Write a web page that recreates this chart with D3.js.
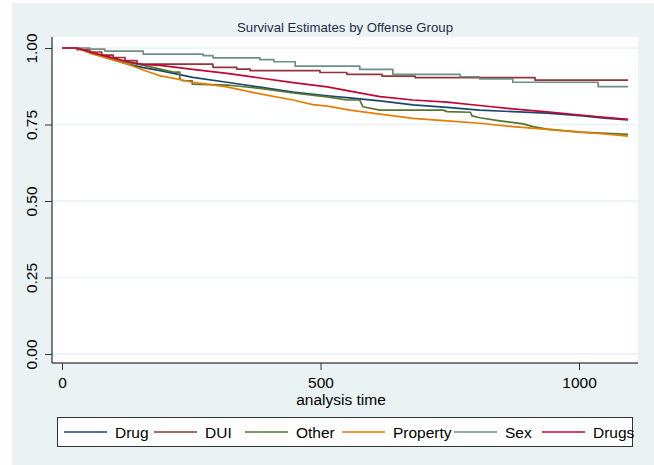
<!DOCTYPE html>
<html>
<head>
<meta charset="utf-8">
<script src="https://cdn.jsdelivr.net/npm/d3@7"></script>
<style>
  html, body { margin: 0; padding: 0; background: #ffffff; }
  svg { display: block; font-family: "Liberation Sans", Arial, Helvetica, sans-serif; }
</style>
</head>
<body>
<svg id="chart" width="654" height="465"></svg>
<script>
// Kaplan-Meier survival estimates by offense group: [analysis time, survival]
const groups = ["Drug", "DUI", "Other", "Property", "Sex", "Drugs"];
const colors = ["#1a476f", "#90353b", "#55752f", "#e37e00", "#6e8e84", "#c10534"];

const drug = [
  [0, 1], [29, 1], [60, 0.982], [93, 0.964], [126, 0.948], [157, 0.936], [190, 0.926],
  [253, 0.904], [319, 0.888], [383, 0.872], [447, 0.856], [513, 0.844], [551, 0.838],
  [615, 0.827], [679, 0.814], [745, 0.806], [808, 0.797], [872, 0.792], [938, 0.787],
  [1002, 0.779], [1050, 0.771], [1095, 0.765]
];
const dui = [
  [0, 1], [29, 0.995], [54, 0.987], [77, 0.977], [99, 0.969], [122, 0.959], [145, 0.947],
  [292, 0.937], [338, 0.931], [364, 0.926], [499, 0.920], [551, 0.914], [619, 0.908],
  [683, 0.903], [915, 0.895], [1095, 0.895]
];
const other = [
  [0, 1], [29, 1], [60, 0.982], [93, 0.967], [126, 0.953], [145, 0.948], [190, 0.931],
  [215, 0.921], [228, 0.921], [228, 0.899], [234, 0.893], [252, 0.893], [252, 0.882],
  [319, 0.879], [383, 0.868], [447, 0.853], [513, 0.840], [551, 0.830], [576, 0.830],
  [582, 0.808], [615, 0.797], [737, 0.797], [745, 0.792], [790, 0.790], [793, 0.778],
  [808, 0.772], [847, 0.762], [892, 0.752], [911, 0.743], [938, 0.735], [1002, 0.725],
  [1095, 0.718]
];
const property = [
  [0, 1], [29, 1], [60, 0.980], [93, 0.964], [126, 0.948], [157, 0.928], [190, 0.909],
  [222, 0.899], [253, 0.888], [319, 0.873], [383, 0.850], [447, 0.830], [485, 0.815],
  [513, 0.810], [557, 0.797], [615, 0.784], [679, 0.770], [745, 0.762], [808, 0.754],
  [872, 0.743], [938, 0.734], [1002, 0.725], [1050, 0.719], [1095, 0.712]
];
const sex = [
  [0, 1], [54, 0.996], [83, 0.990], [157, 0.980], [273, 0.975], [292, 0.968],
  [383, 0.962], [410, 0.955], [451, 0.941], [576, 0.930], [640, 0.914], [770, 0.906],
  [808, 0.899], [872, 0.888], [1037, 0.874], [1095, 0.874]
];
const drugs = [
  [0, 1], [29, 1], [60, 0.984], [93, 0.970], [126, 0.956], [157, 0.946], [190, 0.943],
  [253, 0.930], [319, 0.917], [383, 0.902], [447, 0.887], [513, 0.873], [557, 0.859],
  [615, 0.841], [679, 0.830], [745, 0.823], [808, 0.812], [872, 0.801], [938, 0.791],
  [1002, 0.781], [1050, 0.773], [1095, 0.767]
];
const seriesValues = [drug, dui, other, property, sex, drugs];
// small groups drop in visible steps; large groups read as near-continuous lines
const stepped = [false, true, false, false, true, false];

const xTicks = [0, 500, 1000];
const yTicks = [0, 0.25, 0.5, 0.75, 1];
const yTickLabels = ["0.00", "0.25", "0.50", "0.75", "1.00"];

const svg = d3.select("#chart");
const W = 654, H = 465;

// graph region and plot region
svg.append("rect").attr("x", 12).attr("y", 3).attr("width", W - 12).attr("height", H - 3)
  .attr("fill", "#eaf2f3");
const plot = { left: 52, right: 638, top: 37, bottom: 363 };
svg.append("rect").attr("x", plot.left).attr("y", plot.top)
  .attr("width", plot.right - plot.left).attr("height", plot.bottom - plot.top)
  .attr("fill", "#ffffff");

const x = d3.scaleLinear().domain([0, 1000]).range([62, 579]);
const y = d3.scaleLinear().domain([0, 1]).range([354, 48]);

// gridlines
svg.append("g").selectAll("line").data(yTicks).join("line")
  .attr("x1", plot.left).attr("x2", plot.right)
  .attr("y1", d => y(d)).attr("y2", d => y(d))
  .attr("stroke", "#eaf2f3").attr("stroke-width", 1.5);

// survival curves
const line = (isStep) => d3.line()
  .x(d => x(d[0])).y(d => y(d[1]))
  .curve(isStep ? d3.curveStepAfter : d3.curveLinear);

svg.append("g").selectAll("path").data(seriesValues).join("path")
  .attr("d", (d, i) => line(stepped[i])(d))
  .attr("fill", "none")
  .attr("stroke", (d, i) => colors[i])
  .attr("stroke-width", 1.7)
  .attr("stroke-linejoin", "round");

// y axis
const yAxis = d3.axisLeft(y).tickValues(yTicks).tickSize(7)
  .tickFormat((d, i) => yTickLabels[i]);
const gy = svg.append("g").attr("transform", `translate(${plot.left},0)`).call(yAxis);
gy.select(".domain").attr("d", `M0,${plot.top}V${plot.bottom}`).attr("stroke", "#000");
gy.selectAll(".tick line").attr("stroke", "#333");
gy.selectAll(".tick text")
  .attr("x", null).attr("dy", null)
  .attr("transform", "translate(-15,0) rotate(-90)")
  .attr("text-anchor", "middle")
  .attr("dy", "0")
  .attr("font-size", 15.5)
  .attr("font-family", "Liberation Sans, Arial, sans-serif")
  .attr("fill", "#000");

// x axis
const xAxis = d3.axisBottom(x).tickValues(xTicks).tickSize(7).tickFormat(d3.format("d"));
const gx = svg.append("g").attr("transform", `translate(0,${plot.bottom})`).call(xAxis);
gx.select(".domain").attr("d", `M${plot.left},0H${plot.right}`).attr("stroke", "#000");
gx.selectAll(".tick line").attr("stroke", "#333");
gx.selectAll(".tick text")
  .attr("y", 25).attr("dy", null)
  .attr("font-size", 15.5)
  .attr("font-family", "Liberation Sans, Arial, sans-serif")
  .attr("fill", "#000");

svg.append("text").attr("x", (plot.left + plot.right) / 2 - 4).attr("y", 405)
  .attr("text-anchor", "middle").attr("font-size", 15.5).attr("fill", "#000")
  .text("analysis time");

// title
svg.append("text").attr("x", 345).attr("y", 32)
  .attr("text-anchor", "middle").attr("font-size", 13.2).attr("fill", "#1e2b48")
  .text("Survival Estimates by Offense Group");

// legend
const legend = svg.append("g");
legend.append("rect").attr("x", 57.5).attr("y", 417.5).attr("width", 575).attr("height", 29)
  .attr("fill", "#ffffff").attr("stroke", "#333").attr("stroke-width", 1);
const keyStarts = [64, 154, 245, 342, 454, 542];
const item = legend.selectAll("g.item").data(groups).join("g").attr("class", "item")
  .attr("transform", (d, i) => `translate(${keyStarts[i]},432)`);
item.append("line").attr("x1", 0).attr("x2", 43).attr("y1", 0).attr("y2", 0)
  .attr("stroke", (d, i) => colors[i]).attr("stroke-width", 1.3);
item.append("text").attr("x", 51).attr("y", 5.5)
  .attr("font-size", 15.5).attr("fill", "#000").text(d => d);
</script>
</body>
</html>
